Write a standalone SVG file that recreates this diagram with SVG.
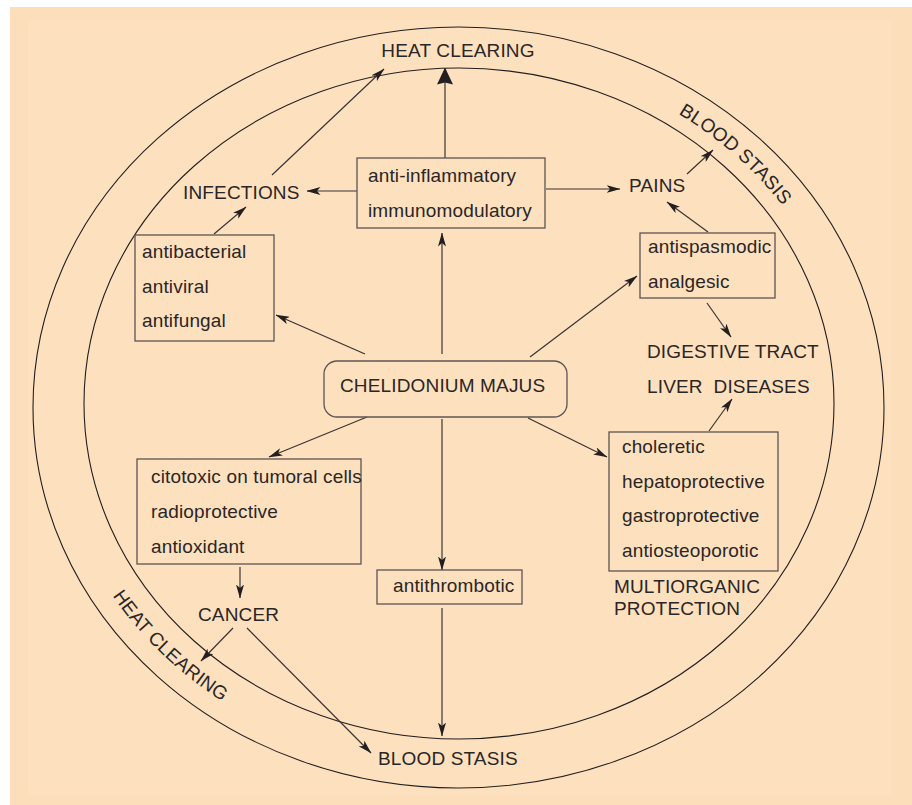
<svg xmlns="http://www.w3.org/2000/svg" xmlns:xlink="http://www.w3.org/1999/xlink" width="912" height="805" viewBox="0 0 912 805">
<style>
.t{font-family:"Liberation Sans",Arial,Helvetica,sans-serif;font-size:19px;letter-spacing:0.15px;fill:#2a2626}
.box{fill:none;stroke:#5e5553;stroke-width:1.3}
.ring{fill:none;stroke:#231f20;stroke-width:1.1}
.c line{stroke:#3a3434;stroke-width:1.2;marker-end:url(#ah)}
</style>
<defs>
<marker id="ah" markerUnits="userSpaceOnUse" viewBox="0 0 14 8" refX="13.5" refY="4" markerWidth="14" markerHeight="8" orient="auto">
<path d="M0,0 L14,4 L0,8 L3.5,4 z" fill="#231f20"/>
</marker>
<marker id="ahBig" markerUnits="userSpaceOnUse" viewBox="0 0 17 16" refX="16.5" refY="8" markerWidth="17" markerHeight="16" orient="auto">
<path d="M0,0 L17,8 L0,16 L2,8 z" fill="#231f20"/>
</marker>
<path id="arcBS" d="M 459 54 A 393 351 0 0 1 852 405"/>
<path id="arcHC" d="M 52.5 405 A 406.5 364.5 0 0 0 459 769.5"/>
</defs>
<rect x="0" y="0" width="912" height="805" fill="#ffffff"/>
<rect x="10" y="7" width="902" height="798" fill="#fcdebb"/>
<rect x="28" y="20" width="863" height="775" fill="#fde0be"/>

<g id="rings">
<ellipse class="ring" cx="458.5" cy="407.5" rx="425.5" ry="380.5"/>
<ellipse class="ring" cx="459" cy="403.5" rx="375" ry="335.5"/>
<text class="t"><textPath xlink:href="#arcBS" href="#arcBS" startOffset="230">BLOOD STASIS</textPath></text>
<text class="t"><textPath xlink:href="#arcHC" href="#arcHC" startOffset="203">HEAT CLEARING</textPath></text>
</g>

<g id="connectors" class="c">
<line x1="445" y1="158" x2="445" y2="68" style="marker-end:url(#ahBig)"/>
<line x1="272" y1="175" x2="384" y2="69"/>
<line x1="357" y1="191" x2="307" y2="191"/>
<line x1="214" y1="234" x2="246" y2="207"/>
<line x1="546" y1="189" x2="620" y2="189"/>
<line x1="687" y1="174" x2="713" y2="150"/>
<line x1="708" y1="232" x2="667" y2="202"/>
<line x1="442" y1="354" x2="442" y2="233"/>
<line x1="365" y1="354" x2="276" y2="315"/>
<line x1="530" y1="357" x2="637" y2="276"/>
<line x1="707" y1="303" x2="731" y2="337"/>
<line x1="709" y1="431" x2="732" y2="399"/>
<line x1="528" y1="418" x2="607" y2="457"/>
<line x1="367" y1="417" x2="269" y2="457"/>
<line x1="442" y1="419" x2="442" y2="570"/>
<line x1="442" y1="608" x2="442" y2="736"/>
<line x1="240" y1="567" x2="240" y2="598"/>
<line x1="233" y1="628" x2="201" y2="661"/>
<line x1="247" y1="628" x2="371" y2="753"/>
</g>

<g id="heat-clearing-top"><text class="t" x="458" y="57" text-anchor="middle">HEAT CLEARING</text></g>
<g id="infections"><text class="t" x="183" y="199">INFECTIONS</text></g>
<g id="pains"><text class="t" x="629" y="192">PAINS</text></g>
<g id="digestive"><text class="t" x="647" y="358">DIGESTIVE TRACT</text><text class="t" x="647" y="393" style="white-space:pre">LIVER  DISEASES</text></g>
<g id="multiorganic"><text class="t" x="614" y="593">MULTIORGANIC</text><text class="t" x="614" y="615">PROTECTION</text></g>
<g id="cancer"><text class="t" x="198" y="621">CANCER</text></g>
<g id="blood-stasis-bottom"><text class="t" x="378" y="765">BLOOD STASIS</text></g>

<g id="anti-inflammatory">
<rect class="box" x="357" y="158" width="188" height="70"/>
<text class="t" x="368" y="182">anti-inflammatory</text>
<text class="t" x="368" y="217">immunomodulatory</text>
</g>
<g id="antibacterial">
<rect class="box" x="135" y="235" width="139" height="106"/>
<text class="t" x="142" y="258">antibacterial</text>
<text class="t" x="142" y="293">antiviral</text>
<text class="t" x="142" y="327">antifungal</text>
</g>
<g id="chelidonium">
<rect class="box" x="324" y="361" width="243" height="56" rx="13"/>
<text class="t" x="340" y="392">CHELIDONIUM MAJUS</text>
</g>
<g id="citotoxic">
<rect class="box" x="137" y="459" width="224" height="105"/>
<text class="t" x="151" y="483">citotoxic on tumoral cells</text>
<text class="t" x="151" y="518">radioprotective</text>
<text class="t" x="151" y="553">antioxidant</text>
</g>
<g id="antithrombotic">
<rect class="box" x="377" y="570" width="145" height="34"/>
<text class="t" x="393" y="592">antithrombotic</text>
</g>
<g id="antispasmodic">
<rect class="box" x="640" y="233" width="135" height="65"/>
<text class="t" x="648" y="253">antispasmodic</text>
<text class="t" x="648" y="288">analgesic</text>
</g>
<g id="choleretic">
<rect class="box" x="609" y="432" width="169" height="139"/>
<text class="t" x="622" y="453">choleretic</text>
<text class="t" x="622" y="488">hepatoprotective</text>
<text class="t" x="622" y="522">gastroprotective</text>
<text class="t" x="622" y="557">antiosteoporotic</text>
</g>
</svg>
